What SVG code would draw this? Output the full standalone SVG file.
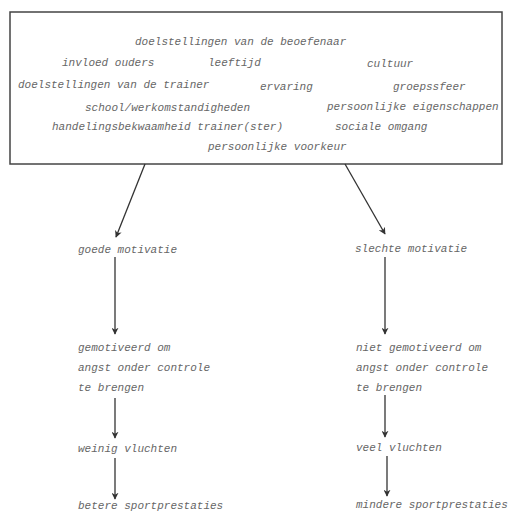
<svg xmlns="http://www.w3.org/2000/svg" width="510" height="514" viewBox="0 0 510 514">
<style>
.t{font-family:"Liberation Mono","DejaVu Sans Mono",monospace;font-style:italic;font-size:11px;fill:#666}
.c{stroke:#333;stroke-width:1.3;fill:none}
</style>
<defs>
<marker id="ah" viewBox="0 0 10 10" refX="9" refY="5" markerWidth="7" markerHeight="7" orient="auto" markerUnits="userSpaceOnUse">
<path d="M0,0 L10,5 L0,10 L3,5 Z" fill="#333"/>
</marker>
</defs>
<rect width="510" height="514" fill="#fff"/>
<g id="factors">
<rect x="10" y="12" width="492" height="152" fill="none" stroke="#444" stroke-width="1.5"/>
<text class="t" x="135" y="45">doelstellingen van de beoefenaar</text>
<text class="t" x="62" y="66">invloed ouders</text>
<text class="t" x="208" y="66">leeftijd</text>
<text class="t" x="367" y="67">cultuur</text>
<text class="t" x="18" y="88">doelstellingen van de trainer</text>
<text class="t" x="260" y="90">ervaring</text>
<text class="t" x="393" y="90">groepssfeer</text>
<text class="t" x="85" y="111">school/werkomstandigheden</text>
<text class="t" x="327" y="110">persoonlijke eigenschappen</text>
<text class="t" x="52" y="130">handelingsbekwaamheid trainer(ster)</text>
<text class="t" x="335" y="130">sociale omgang</text>
<text class="t" x="208" y="150">persoonlijke voorkeur</text>
</g>
<g id="goede-motivatie"><text class="t" x="78" y="253">goede motivatie</text></g>
<g id="slechte-motivatie"><text class="t" x="355" y="252">slechte motivatie</text></g>
<g id="gemotiveerd">
<text class="t" x="78" y="351">gemotiveerd om</text>
<text class="t" x="78" y="371">angst onder controle</text>
<text class="t" x="78" y="391">te brengen</text>
</g>
<g id="niet-gemotiveerd">
<text class="t" x="356" y="351">niet gemotiveerd om</text>
<text class="t" x="356" y="371">angst onder controle</text>
<text class="t" x="356" y="391">te brengen</text>
</g>
<g id="weinig-vluchten"><text class="t" x="78" y="452">weinig vluchten</text></g>
<g id="veel-vluchten"><text class="t" x="356" y="451">veel vluchten</text></g>
<g id="betere"><text class="t" x="78" y="509">betere sportprestaties</text></g>
<g id="mindere"><text class="t" x="356" y="508">mindere sportprestaties</text></g>
<g id="connectors">
<line class="c" x1="145" y1="164" x2="116" y2="237" marker-end="url(#ah)"/>
<line class="c" x1="345" y1="164" x2="385" y2="234" marker-end="url(#ah)"/>
<line class="c" x1="115" y1="257" x2="115" y2="334" marker-end="url(#ah)"/>
<line class="c" x1="385" y1="257" x2="385" y2="334" marker-end="url(#ah)"/>
<line class="c" x1="115" y1="398" x2="115" y2="438" marker-end="url(#ah)"/>
<line class="c" x1="385" y1="395" x2="385" y2="437" marker-end="url(#ah)"/>
<line class="c" x1="115" y1="458" x2="115" y2="499" marker-end="url(#ah)"/>
<line class="c" x1="387" y1="456" x2="387" y2="496" marker-end="url(#ah)"/>
</g>
</svg>
